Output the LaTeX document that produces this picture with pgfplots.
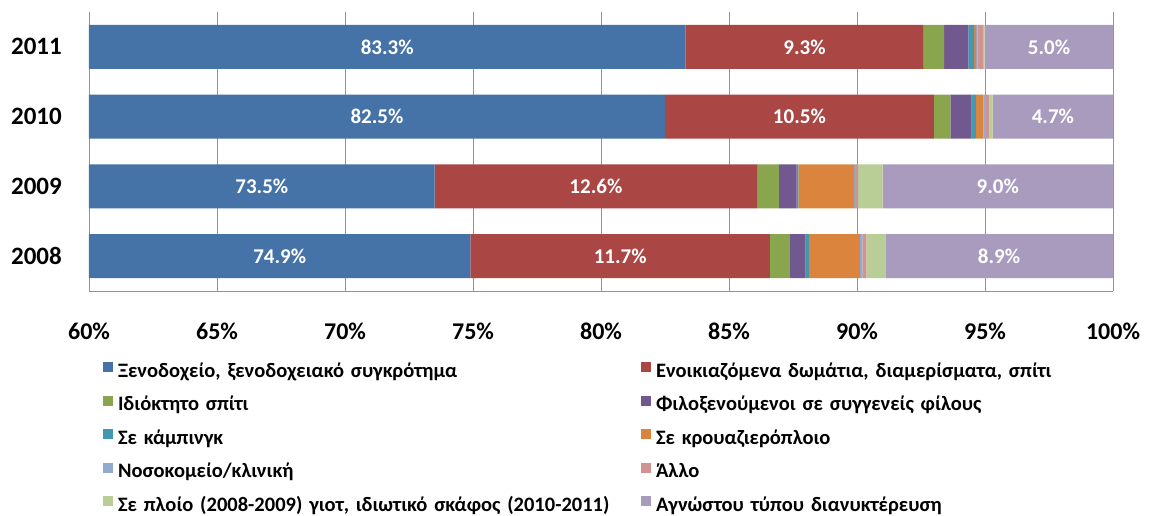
\documentclass[border=0pt]{standalone}
\usepackage{fontspec}
\setmainfont{Carlito}
\usepackage{pgfplots}
\pgfplotsset{compat=1.18}
\usepackage{pgfplotstable}

\definecolor{c1}{HTML}{4572A7}
\definecolor{c2}{HTML}{AA4643}
\definecolor{c3}{HTML}{89A54E}
\definecolor{c4}{HTML}{71588F}
\definecolor{c5}{HTML}{4198AF}
\definecolor{c6}{HTML}{DB843D}
\definecolor{c7}{HTML}{93A9CF}
\definecolor{c8}{HTML}{D19392}
\definecolor{c9}{HTML}{B9CD96}
\definecolor{c10}{HTML}{A99BBD}

% shares per year (y: 0=2008 ... 3=2011)
\pgfplotstableread{
y hotel rent own friends camp cruise hosp other yacht unknown
0 74.9 11.7 0.78 0.61 0.14 1.98 0.10 0.16 0.74 8.89
1 73.5 12.6 0.85 0.69 0.07 2.18 0.08 0.07 0.96 9.00
2 82.5 10.5 0.65 0.83 0.16 0.30 0.10 0.13 0.13 4.70
3 83.3 9.3 0.80 0.95 0.22 0.08 0.05 0.23 0.05 5.02
}\shares

% value labels, centred in the visible part of each segment
\pgfplotstableread{
y x lab
0 67.45 74.9\%
0 80.75 11.7\%
0 95.55 8.9\%
1 66.75 73.5\%
1 79.80 12.6\%
1 95.50 9.0\%
2 71.25 82.5\%
2 87.75 10.5\%
2 97.65 4.7\%
3 71.65 83.3\%
3 87.95 9.3\%
3 97.50 5.0\%
}\labels

\begin{document}
\begin{tikzpicture}
\pgfplotsset{
  base/.style={
    width=1024pt, height=279pt, scale only axis,
    xmin=60, xmax=100, ymin=-0.5, ymax=3.5,
  },
}
\begin{axis}[base, name=main,
  xbar stacked, bar width=0.63,
  xtick={60,65,...,100},
  xticklabels={60\%,65\%,70\%,75\%,80\%,85\%,90\%,95\%,100\%},
  ytick={0,1,2,3}, yticklabels={2008,2009,2010,2011},
  xmajorgrids, grid style={gray!85, line width=0.9pt},
  axis x line*=bottom, axis y line*=left,
  axis line style={gray!85, line width=0.9pt},
  major tick length=0pt,
  xticklabel style={font=\bfseries\fontsize{24}{24}\selectfont, inner sep=0pt, anchor=north, yshift=-32pt},
  yticklabel style={font=\bfseries\fontsize{25}{25}\selectfont, inner sep=0pt, anchor=east, xshift=-27pt},
  legend columns=2,
  legend cell align=left,
  legend image code/.code={\fill[#1] (0pt,0pt) rectangle (10pt,10pt);},
  legend style={at={(0,0)}, anchor=north west, xshift=14pt, yshift=-70pt,
    draw=none, inner sep=0pt, outer sep=0pt,
    font=\bfseries\fontsize{20.5}{20.5}\selectfont, row sep=11.5pt, column sep=0pt,
    nodes={inner sep=2pt, text height=14pt, text depth=4pt, text width=521pt, align=left},
    /tikz/every odd column/.append style={column sep=3pt}},
]
\addplot[fill=c1, draw=none] table[x=hotel, y=y] {\shares};
\addplot[fill=c2, draw=none] table[x=rent, y=y] {\shares};
\addplot[fill=c3, draw=none] table[x=own, y=y] {\shares};
\addplot[fill=c4, draw=none] table[x=friends, y=y] {\shares};
\addplot[fill=c5, draw=none] table[x=camp, y=y] {\shares};
\addplot[fill=c6, draw=none] table[x=cruise, y=y] {\shares};
\addplot[fill=c7, draw=none] table[x=hosp, y=y] {\shares};
\addplot[fill=c8, draw=none] table[x=other, y=y] {\shares};
\addplot[fill=c9, draw=none] table[x=yacht, y=y] {\shares};
\addplot[fill=c10, draw=none] table[x=unknown, y=y] {\shares};
\legend{{Ξενοδοχείο, ξενοδοχειακό συγκρότημα},
  {Ενοικιαζόμενα δωμάτια, διαμερίσματα, σπίτι},
  {Ιδιόκτητο σπίτι},
  {Φιλοξενούμενοι σε συγγενείς φίλους},
  {Σε κάμπινγκ},
  {Σε κρουαζιερόπλοιο},
  {Νοσοκομείο/κλινική},
  {Άλλο},
  {Σε πλοίο (2008-2009) γιοτ, ιδιωτικό σκάφος (2010-2011)},
  {Αγνώστου τύπου διανυκτέρευση}}
\end{axis}
\begin{axis}[base, hide axis]
\addplot[only marks, mark=*, mark size=0pt,
  mark options={draw opacity=0, fill opacity=0},
  nodes near coords, point meta=explicit symbolic,
  nodes near coords align=center,
  every node near coord/.append style={font=\bfseries\fontsize{21}{21}\selectfont,
    text=white, text opacity=1}]
  table[x=x, y=y, meta=lab] {\labels};
\end{axis}
\pgfresetboundingbox
\path[use as bounding box] ([shift={(-89pt,-224pt)}]main.south west) rectangle ([shift={(1061pt,291pt)}]main.south west);
\end{tikzpicture}
\end{document}
